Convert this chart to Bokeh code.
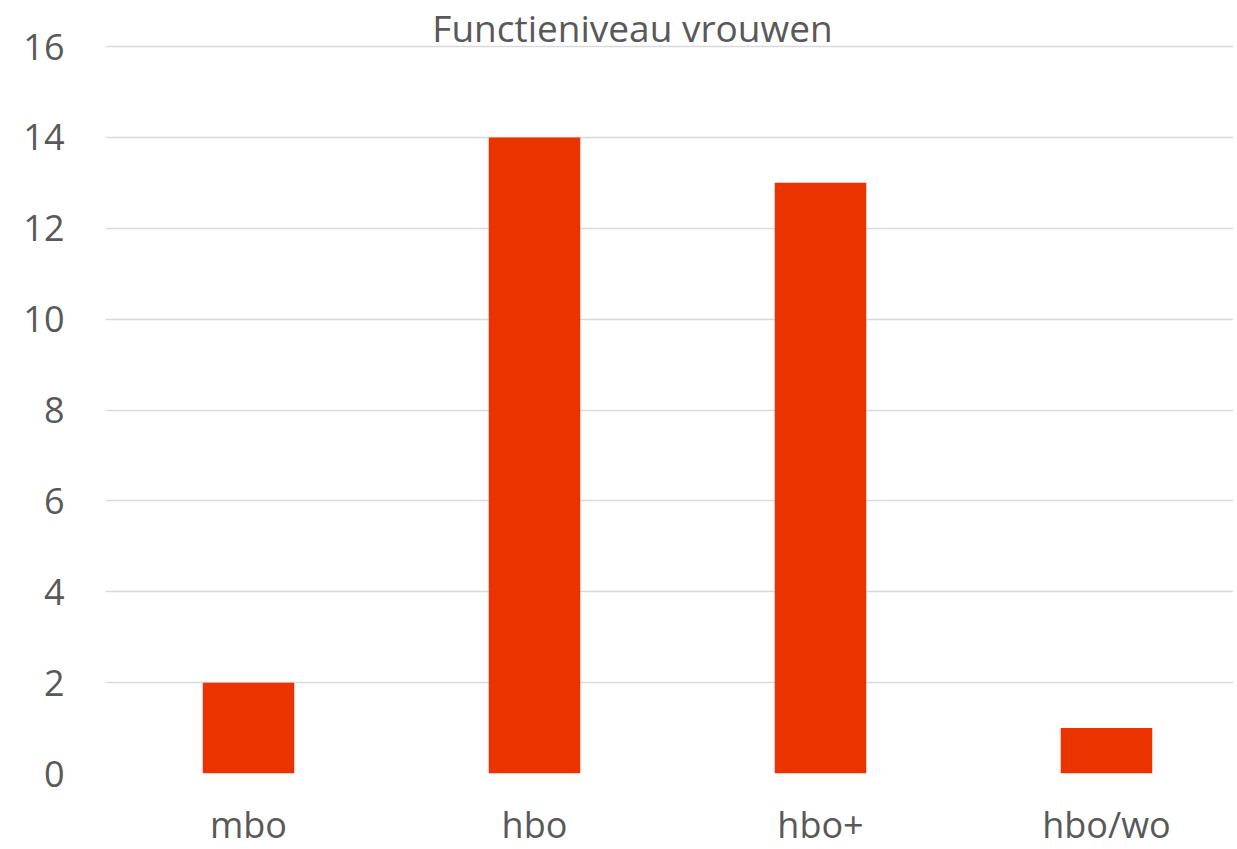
from bokeh.plotting import figure
from bokeh.models import Range1d, FixedTicker, Label
from bokeh.embed import file_html
from bokeh.resources import INLINE

title_text = "Functieniveau vrouwen"
categories = ["mbo", "hbo", "hbo+", "hbo/wo"]
values = [2, 14, 13, 1]
y_ticks = [0, 2, 4, 6, 8, 10, 12, 14, 16]

FONT = "Open Sans"
TEXT = "#595959"
BAR = "#EB3300"

xs = list(range(len(categories)))
slot = 286.0
frame_w = 1128
frame_h = 773
px_per_unit = 727 / 16.0
p = figure(
    frame_width=frame_w, frame_height=frame_h,
    min_border_left=105, min_border_top=0, min_border_right=0, min_border_bottom=0,
    x_range=Range1d(-0.5, -0.5 + frame_w / slot),
    y_range=Range1d(0, frame_h / px_per_unit),
    output_backend="svg", toolbar_location=None,
)
p.vbar(x=xs, top=values, width=0.32, color=BAR, line_color=None)

p.outline_line_color = None
p.xgrid.grid_line_color = None
p.ygrid.grid_line_color = "#D9D9D9"
p.ygrid.grid_line_width = 1.5
p.ygrid.ticker = FixedTicker(ticks=y_ticks)

p.yaxis.ticker = FixedTicker(ticks=y_ticks)
p.xaxis.ticker = FixedTicker(ticks=xs)
p.xaxis.major_label_overrides = {i: c for i, c in enumerate(categories)}
for ax in (p.xaxis[0], p.yaxis[0]):
    ax.axis_line_color = None
    ax.major_tick_line_color = None
    ax.minor_tick_line_color = None
    ax.major_tick_out = 0
    ax.major_tick_in = 0
    ax.major_label_text_font = FONT
    ax.major_label_text_color = TEXT
    ax.major_label_text_font_size = "36px"
p.yaxis.major_label_standoff = 41
p.xaxis.major_label_standoff = 26

p.add_layout(Label(x=632, y=1, x_units="canvas", y_units="canvas", text=title_text,
                   text_align="center", text_baseline="top",
                   text_font=FONT, text_font_size="37px", text_color=TEXT))

open("out.html", "w").write(file_html(p, INLINE))
